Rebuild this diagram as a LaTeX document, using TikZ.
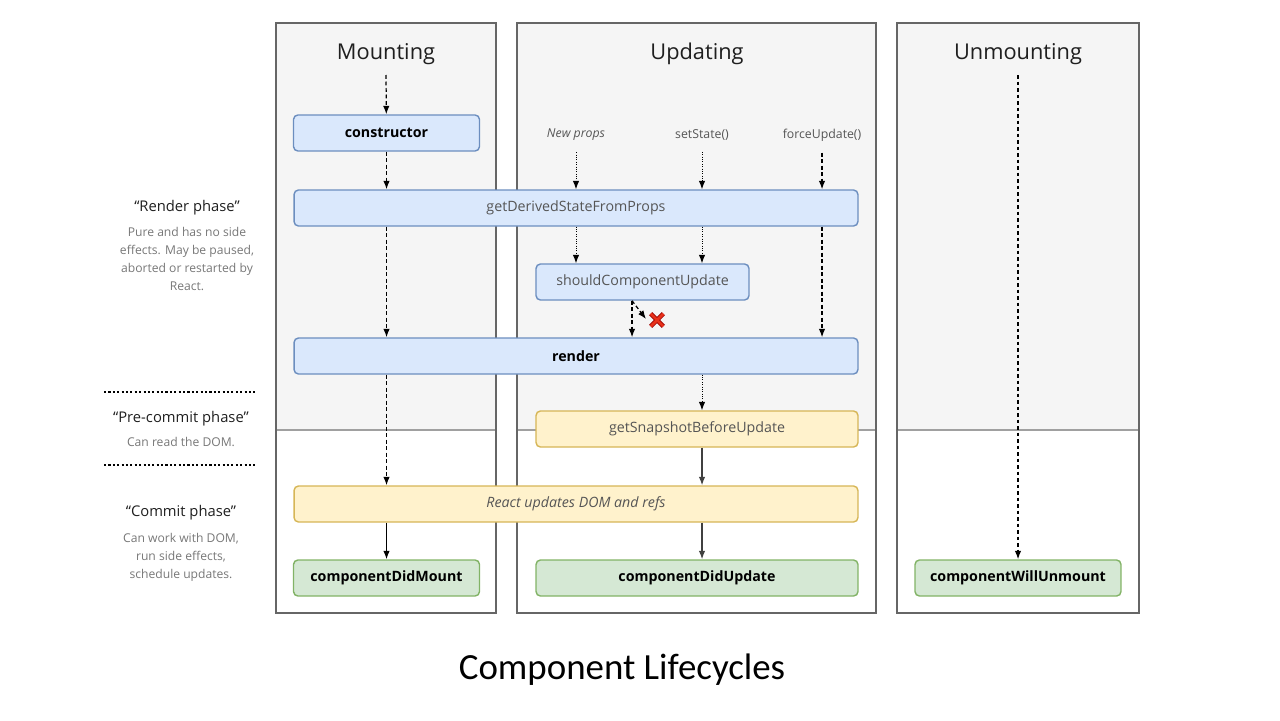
\documentclass[tikz,border=0pt]{standalone}
\usepackage{fontspec}
\setmainfont{Open Sans}
\newfontfamily\captionfont{Carlito}
\usetikzlibrary{arrows.meta}

\definecolor{laneFill}{HTML}{F5F5F5}
\definecolor{laneLine}{HTML}{666666}
\definecolor{sepLine}{HTML}{A0A0A0}
\definecolor{blueFill}{HTML}{DAE8FC}
\definecolor{blueLine}{HTML}{6C8EBF}
\definecolor{yellowFill}{HTML}{FFF2CC}
\definecolor{yellowLine}{HTML}{D6B656}
\definecolor{greenFill}{HTML}{D5E8D4}
\definecolor{greenLine}{HTML}{82B366}
\definecolor{softText}{HTML}{555555}
\definecolor{noteText}{HTML}{777777}
\definecolor{crossRed}{HTML}{E8311A}

\begin{document}
\begin{tikzpicture}[x = 0.02cm, y = -0.02cm,
    box/.style = {draw, rounded corners = 2.5pt, line width = 0.8pt, minimum height = 0.72cm, inner sep = 0pt, font = \fontsize{8.1}{9}\selectfont},
    bluebox/.style = {box, fill = blueFill, draw = blueLine},
    yellowbox/.style = {box, fill = yellowFill, draw = yellowLine},
    greenbox/.style = {box, fill = greenFill, draw = greenLine, font = \fontsize{8.1}{9}\selectfont\bfseries},
    lanetitle/.style = {font = \fontsize{12.4}{15}\selectfont, text = black!88},
    trigger/.style = {font = \fontsize{7}{9}\selectfont, text = softText},
    phase/.style = {font = \fontsize{8.4}{10}\selectfont, text = black!88},
    note/.style = {align = center, font = \fontsize{6.9}{10.2}\selectfont, text = noteText},
    flow/.style = {-{Latex[length = 0.17cm, width = 0.13cm]}, line width = 0.7pt},
    dashedflow/.style = {flow, dash pattern = on 2.2pt off 1.5pt},
    dottedflow/.style = {flow, line width = 0.55pt, dash pattern = on 0.55pt off 0.8pt}
]
    \useasboundingbox (0,0) rectangle (1280,720);

    \fill [laneFill] (276,23) rectangle (496,430);
    \fill [laneFill] (517,23) rectangle (876,430);
    \fill [laneFill] (897,23) rectangle (1139,430);

    \draw [sepLine, line width = 0.7pt] (276,430) -- (496,430);
    \draw [sepLine, line width = 0.7pt] (517,430) -- (876,430);
    \draw [sepLine, line width = 0.7pt] (897,430) -- (1139,430);

    \draw [laneLine, line width = 0.8pt] (276,23) rectangle (496,613);
    \draw [laneLine, line width = 0.8pt] (517,23) rectangle (876,613);
    \draw [laneLine, line width = 0.8pt] (897,23) rectangle (1139,613);

    \node [lanetitle] (mounting)   at (386,54)  {Mounting};
    \node [lanetitle] (updating)   at (697,54)  {Updating};
    \node [lanetitle] (unmounting) at (1018,54) {Unmounting};

    \coordinate (mountStart)   at (386,75);
    \coordinate (unmountStart) at (1018,75);

    \node [trigger, font = \fontsize{7}{9}\selectfont\itshape] (newprops) at (576,135) {New props};
    \node [trigger] (setstate) at (702,135) {setState()};
    \node [trigger] (forceupdate) at (822,135) {forceUpdate()};

    \node [bluebox, minimum width = 3.72cm, font = \fontsize{8.1}{9}\selectfont\bfseries] (ctor) at (386.5,133) {constructor};
    \node [bluebox, minimum width = 11.28cm, text = softText] (gdsfp) at (576,208) {getDerivedStateFromProps};
    \node [bluebox, minimum width = 4.26cm, text = softText] (scu) at (642.5,282) {shouldComponentUpdate};
    \node [bluebox, minimum width = 11.28cm, font = \fontsize{8.1}{9}\selectfont\bfseries] (render) at (576,356) {render};
    \node [yellowbox, minimum width = 6.44cm, text = softText] (snapshot) at (697,429) {getSnapshotBeforeUpdate};
    \node [yellowbox, minimum width = 11.28cm, text = softText, font = \fontsize{8.1}{9}\selectfont\itshape] (domupdate) at (576,504) {React updates DOM and refs};
    \node [greenbox, minimum width = 3.72cm] (didmount) at (386.5,578) {componentDidMount};
    \node [greenbox, minimum width = 6.44cm] (didupdate) at (697,578) {componentDidUpdate};
    \node [greenbox, minimum width = 4.12cm] (willunmount) at (1018,578) {componentWillUnmount};

    \draw [dashedflow] (mountStart) -- (ctor);
    \draw [dashedflow] (ctor) -- (ctor |- gdsfp.north);
    \draw [dashedflow] (gdsfp.south -| ctor) -- (render.north -| ctor);
    \draw [dashedflow] (render.south -| ctor) -- (domupdate.north -| ctor);
    \draw [flow] (domupdate.south -| ctor) -- (didmount);

    \draw [dottedflow, shorten <= 3pt] (newprops) -- (newprops |- gdsfp.north);
    \draw [dottedflow, shorten <= 3pt] (setstate) -- (setstate |- gdsfp.north);
    \draw [dashedflow, shorten <= 3pt] (forceupdate) -- (forceupdate |- gdsfp.north);

    \draw [dottedflow] (gdsfp.south -| newprops) -- (scu.north -| newprops);
    \draw [dottedflow] (gdsfp.south -| setstate) -- (scu.north -| setstate);
    \draw [dashedflow] (gdsfp.south -| forceupdate) -- (render.north -| forceupdate);

    \coordinate (scuOut) at ([xshift = -0.21cm]scu.south);
    \coordinate (skip) at (646,319);
    \draw [dashedflow] (scuOut) -- (scuOut |- render.north);
    \draw [dashedflow] (scuOut) -- (skip);

    \node [inner sep = 0pt, minimum size = 0.24cm] (cross) at (657,320) {};
    \draw [red!60!black, line width = 2.6pt] (cross.north west) -- (cross.south east) (cross.north east) -- (cross.south west);
    \draw [crossRed, line width = 1.6pt] (cross.north west) -- (cross.south east) (cross.north east) -- (cross.south west);

    \draw [dottedflow] (render.south -| setstate) -- (snapshot.north -| setstate);
    \draw [flow, black!75] (snapshot.south -| setstate) -- (domupdate.north -| setstate);
    \draw [flow, black!75] (domupdate.south -| setstate) -- (didupdate.north -| setstate);

    \draw [dashedflow] (unmountStart) -- (willunmount);

    \node [phase] (renderphase) at (187,208) {“Render phase”};
    \node [note, anchor = north] (rendernote) at (187,221) {Pure and has no side\\effects. May be paused,\\aborted or restarted by\\React.};
    \node [phase] (precommit) at (181,419) {“Pre-commit phase”};
    \node [note] (precommitnote) at (181,442) {Can read the DOM.};
    \node [phase] (commitphase) at (181,513) {“Commit phase”};
    \node [note, anchor = north] (commitnote) at (181,527) {Can work with DOM,\\run side effects,\\schedule updates.};

    \draw [line width = 1.2pt, dash pattern = on 1.2pt off 1.3pt] (104,392) -- (256,392);
    \draw [line width = 1.2pt, dash pattern = on 1.2pt off 1.3pt] (104,465) -- (256,465);

    \node [font = \captionfont\fontsize{21}{25}\selectfont] (caption) at (622,670) {Component Lifecycles};
\end{tikzpicture}
\end{document}
